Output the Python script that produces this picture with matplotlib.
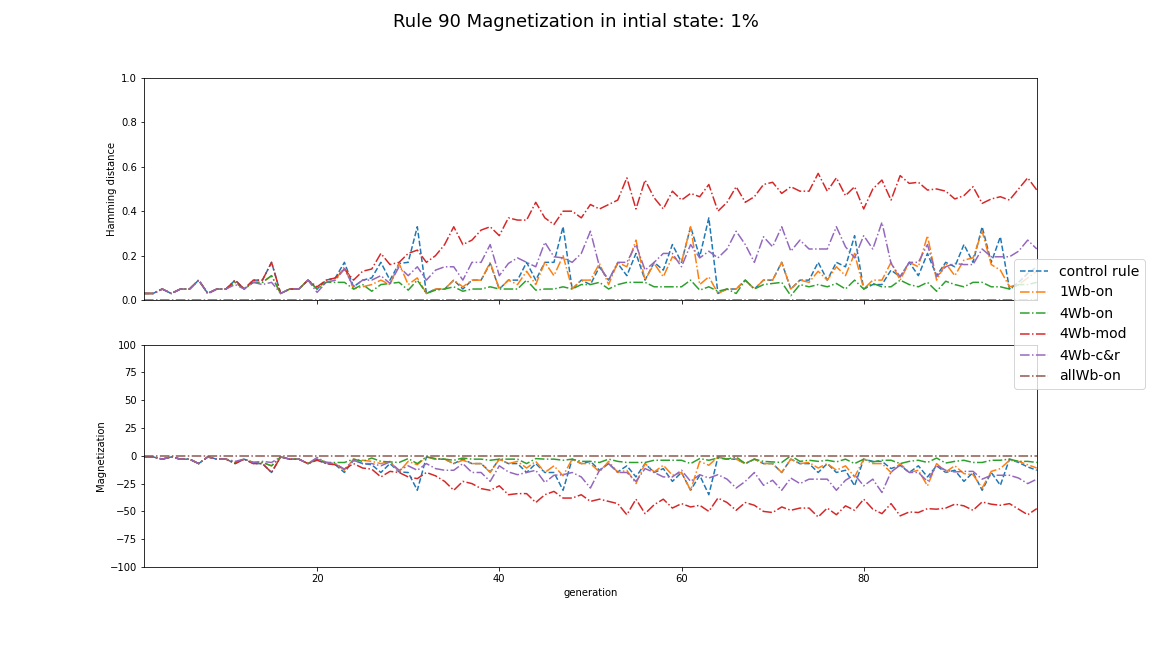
import matplotlib
matplotlib.use('Agg')
import matplotlib.pyplot as plt

generation = list(range(1, 100))

# hamming distance per rule
ham_control = [0.03, 0.03, 0.05, 0.03, 0.05, 0.05, 0.09, 0.03, 0.05, 0.05,
               0.09, 0.05, 0.09, 0.09, 0.17, 0.03, 0.05, 0.05, 0.09, 0.05,
               0.09, 0.10, 0.17, 0.06, 0.09, 0.10, 0.17, 0.09, 0.165, 0.17,
               0.33, 0.03, 0.05, 0.05, 0.09, 0.05, 0.09, 0.09, 0.165, 0.05,
               0.09, 0.09, 0.17, 0.09, 0.17, 0.17, 0.33, 0.05, 0.09, 0.07,
               0.15, 0.09, 0.165, 0.11, 0.21, 0.09, 0.17, 0.135, 0.25, 0.17,
               0.33, 0.195, 0.37, 0.03, 0.05, 0.05, 0.09, 0.05, 0.09, 0.09,
               0.17, 0.05, 0.09, 0.09, 0.17, 0.09, 0.17, 0.15, 0.29, 0.05,
               0.07, 0.07, 0.135, 0.105, 0.17, 0.11, 0.21, 0.11, 0.17, 0.15,
               0.25, 0.17, 0.33, 0.17, 0.285, 0.05, 0.08, 0.12, 0.15]
ham_1wb = [0.03, 0.03, 0.05, 0.03, 0.05, 0.05, 0.09, 0.03, 0.05, 0.05,
           0.08, 0.05, 0.08, 0.08, 0.11, 0.03, 0.05, 0.05, 0.09, 0.05,
           0.08, 0.09, 0.15, 0.05, 0.06, 0.07, 0.09, 0.07, 0.165, 0.07,
           0.10, 0.03, 0.05, 0.05, 0.09, 0.06, 0.09, 0.09, 0.17, 0.05,
           0.09, 0.07, 0.13, 0.07, 0.17, 0.11, 0.20, 0.05, 0.09, 0.09,
           0.165, 0.07, 0.17, 0.15, 0.27, 0.09, 0.165, 0.105, 0.195, 0.17,
           0.33, 0.07, 0.105, 0.03, 0.05, 0.05, 0.09, 0.05, 0.09, 0.09,
           0.17, 0.05, 0.09, 0.08, 0.13, 0.09, 0.15, 0.11, 0.21, 0.05,
           0.09, 0.09, 0.17, 0.09, 0.17, 0.15, 0.29, 0.09, 0.165, 0.11,
           0.18, 0.19, 0.31, 0.16, 0.135, 0.06, 0.07, 0.10, 0.13]
ham_4wb = [0.03, 0.03, 0.05, 0.03, 0.05, 0.05, 0.09, 0.03, 0.05, 0.05,
           0.08, 0.05, 0.08, 0.08, 0.11, 0.03, 0.05, 0.05, 0.09, 0.05,
           0.08, 0.08, 0.08, 0.05, 0.07, 0.04, 0.07, 0.075, 0.08, 0.045,
           0.09, 0.03, 0.045, 0.05, 0.06, 0.04, 0.05, 0.05, 0.06, 0.05,
           0.05, 0.05, 0.09, 0.045, 0.05, 0.05, 0.06, 0.05, 0.07, 0.07,
           0.08, 0.05, 0.07, 0.08, 0.08, 0.08, 0.06, 0.06, 0.06, 0.06,
           0.09, 0.045, 0.06, 0.04, 0.05, 0.03, 0.09, 0.05, 0.07, 0.075,
           0.08, 0.02, 0.07, 0.06, 0.07, 0.06, 0.075, 0.05, 0.09, 0.05,
           0.075, 0.06, 0.06, 0.09, 0.07, 0.06, 0.08, 0.04, 0.085, 0.07,
           0.06, 0.08, 0.08, 0.06, 0.06, 0.05, 0.07, 0.07, 0.08]
ham_4wb_mod = [0.03, 0.03, 0.05, 0.03, 0.05, 0.05, 0.09, 0.03, 0.05, 0.05,
               0.09, 0.05, 0.09, 0.09, 0.17, 0.03, 0.05, 0.05, 0.09, 0.06,
               0.09, 0.10, 0.14, 0.09, 0.13, 0.14, 0.21, 0.16, 0.17, 0.21,
               0.225, 0.17, 0.20, 0.25, 0.33, 0.25, 0.27, 0.315, 0.33, 0.29,
               0.37, 0.36, 0.36, 0.44, 0.37, 0.34, 0.40, 0.40, 0.37, 0.43,
               0.41, 0.43, 0.45, 0.55, 0.41, 0.54, 0.46, 0.41, 0.49, 0.45,
               0.48, 0.465, 0.52, 0.40, 0.44, 0.51, 0.44, 0.465, 0.52, 0.53,
               0.48, 0.51, 0.49, 0.49, 0.57, 0.49, 0.55, 0.47, 0.51, 0.41,
               0.50, 0.54, 0.45, 0.56, 0.525, 0.53, 0.495, 0.50, 0.49, 0.455,
               0.47, 0.51, 0.435, 0.455, 0.465, 0.45, 0.50, 0.55, 0.495]
ham_4wb_cr = [0.03, 0.03, 0.05, 0.03, 0.05, 0.05, 0.09, 0.03, 0.05, 0.05,
              0.07, 0.05, 0.08, 0.07, 0.08, 0.03, 0.05, 0.05, 0.09, 0.035,
              0.08, 0.09, 0.14, 0.06, 0.09, 0.09, 0.11, 0.075, 0.15, 0.11,
              0.15, 0.09, 0.135, 0.15, 0.15, 0.09, 0.17, 0.17, 0.25, 0.11,
              0.165, 0.19, 0.17, 0.15, 0.26, 0.195, 0.19, 0.17, 0.21, 0.31,
              0.15, 0.09, 0.17, 0.17, 0.25, 0.135, 0.17, 0.21, 0.21, 0.15,
              0.25, 0.19, 0.22, 0.19, 0.23, 0.31, 0.25, 0.17, 0.285, 0.24,
              0.33, 0.22, 0.27, 0.23, 0.23, 0.23, 0.33, 0.24, 0.19, 0.29,
              0.23, 0.35, 0.165, 0.105, 0.17, 0.17, 0.25, 0.105, 0.15, 0.165,
              0.16, 0.16, 0.23, 0.195, 0.195, 0.195, 0.22, 0.27, 0.23]
ham_allwb = [0.0] * 99

# magnetization per rule
mag_control = [-1, -1, -3, -1, -3, -3, -7, -1, -3, -3,
               -7, -3, -7, -7, -15, -1, -3, -3, -7, -3,
               -7, -8, -15, -4, -7, -8, -15, -7, -14.5, -15,
               -31, -1, -3, -3, -7, -3, -7, -7, -14.5, -3,
               -7, -7, -15, -7, -15, -15, -31, -3, -7, -5,
               -13, -7, -14.5, -9, -19, -7, -15, -11.5, -23, -15,
               -31, -17.5, -35, -1, -3, -3, -7, -3, -7, -7,
               -15, -3, -7, -7, -15, -7, -15, -13, -27, -3,
               -5, -5, -11.5, -8.5, -15, -9, -19, -9, -15, -13,
               -23, -15, -31, -15, -26.5, -3, -6, -10, -13]
mag_1wb = [-1, -1, -3, -1, -3, -3, -7, -1, -3, -3,
           -6, -3, -6, -6, -9, -1, -3, -3, -7, -3,
           -6, -7, -13, -3, -4, -5, -7, -5, -14.5, -5,
           -8, -1, -3, -3, -7, -4, -7, -7, -15, -3,
           -7, -5, -11, -5, -15, -9, -18, -3, -7, -7,
           -14.5, -5, -15, -13, -25, -7, -14.5, -8.5, -17.5, -15,
           -31, -5, -8.5, -1, -3, -3, -7, -3, -7, -7,
           -15, -3, -7, -6, -11, -7, -13, -9, -19, -3,
           -7, -7, -15, -7, -15, -13, -27, -7, -14.5, -9,
           -16, -17, -29, -14, -11.5, -4, -5, -8, -11]
mag_4wb = [-1, -1, -3, -1, -3, -3, -7, -1, -3, -3,
           -6, -3, -6, -6, -9, -1, -3, -3, -7, -3,
           -6, -6, -6, -3, -5, -2, -5, -5.5, -6, -2.5,
           -7, -1, -2.5, -3, -4, -2, -3, -3, -4, -3,
           -3, -3, -7, -2.5, -3, -3, -4, -3, -5, -5,
           -6, -3, -5, -6, -6, -6, -4, -4, -4, -4,
           -7, -2.5, -4, -2, -3, -1, -7, -3, -5, -5.5,
           -6, 0, -5, -4, -5, -4, -5.5, -3, -7, -3,
           -5.5, -4, -4, -7, -5, -4, -6, -2, -6.5, -5,
           -4, -6, -6, -4, -4, -3, -5, -5, -6]
mag_4wb_mod = [-1, -1, -3, -1, -3, -3, -7, -1, -3, -3,
               -7, -3, -7, -7, -15, -1, -3, -3, -7, -4,
               -7, -8, -12, -7, -11, -12, -19, -14, -15, -19,
               -20.5, -15, -18, -23, -31, -23, -25, -29.5, -31, -27,
               -35, -34, -34, -42, -35, -32, -38, -38, -35, -41,
               -39, -41, -43, -53, -39, -52, -44, -39, -47, -43,
               -46, -44.5, -50, -38, -42, -49, -42, -44.5, -50, -51,
               -46, -49, -47, -47, -55, -47, -53, -45, -49, -39,
               -48, -52, -43, -54, -50.5, -51, -47.5, -48, -47, -43.5,
               -45, -49, -41.5, -43.5, -44.5, -43, -48, -53, -47.5]
mag_4wb_cr = [-1, -1, -3, -1, -3, -3, -7, -1, -3, -3,
              -5, -3, -6, -5, -6, -1, -3, -3, -7, -1.5,
              -6, -7, -12, -4, -7, -7, -9, -5.5, -13, -9,
              -13, -7, -11.5, -13, -13, -7, -15, -15, -23, -9,
              -14.5, -17, -15, -13, -24, -17.5, -17, -15, -19, -29,
              -13, -7, -15, -15, -23, -11.5, -15, -19, -19, -13,
              -23, -17, -20, -17, -21, -29, -23, -15, -26.5, -22,
              -31, -20, -25, -21, -21, -21, -31, -22, -17, -27,
              -21, -33, -14.5, -8.5, -15, -15, -23, -8.5, -13, -14.5,
              -14, -14, -21, -17.5, -17.5, -17.5, -20, -25, -21]
mag_allwb = [0.0] * 99

labels = ['control rule', '1Wb-on', '4Wb-on', '4Wb-mod', '4Wb-c&r', 'allWb-on']
ham = [ham_control, ham_1wb, ham_4wb, ham_4wb_mod, ham_4wb_cr, ham_allwb]
mag = [mag_control, mag_1wb, mag_4wb, mag_4wb_mod, mag_4wb_cr, mag_allwb]
styles = ['--', '-.', '-.', '-.', '-.', '-.']

fig, (ax1, ax2) = plt.subplots(2, 1, sharex=True, figsize=(16, 9), dpi=72)
fig.subplots_adjust(bottom=0.125)

for i in range(len(labels)):
    ax1.plot(generation, ham[i], styles[i], color='C%d' % i, label=labels[i])
    ax2.plot(generation, mag[i], styles[i], color='C%d' % i)

ax1.set_ylim(0, 1)
ax1.set_ylabel('Hamming distance')
ax2.set_ylim(-100, 100)
ax2.set_yticks([-100, -75, -50, -25, 0, 25, 50, 75, 100])
ax2.set_ylabel('Magnetization')
ax2.set_xlabel('generation')
ax2.set_xlim(1, 99)

fig.suptitle('Rule 90 Magnetization in intial state: 1%', fontsize=18)
fig.legend(loc='center right', fontsize=14)

plt.savefig('out.png')
